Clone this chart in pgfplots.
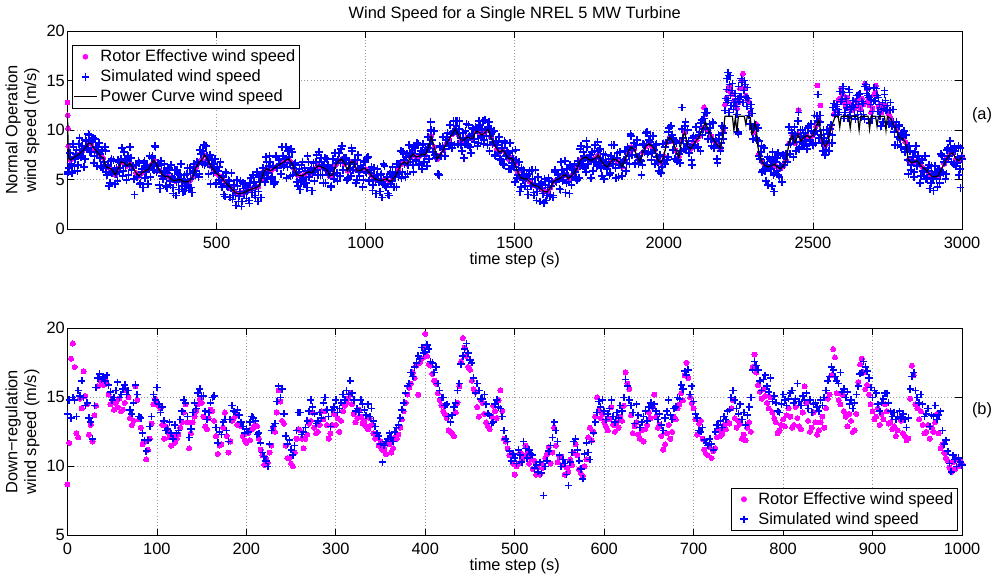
\documentclass[border=0pt]{standalone}
\usepackage{fontspec}
\setmainfont{Liberation Sans}
\usepackage{pgfplots}
\usepackage{pgfplotstable}
\pgfplotsset{compat=1.18}
\definecolor{mag}{rgb}{1,0,1}
\newcommand\fs{\fontsize{12.3}{14}\selectfont}

\pgfplotstableread{
t v
0 12.8
1 11.5
2 10.2
3 8.4
10 7.0
20 7.2
30 7.4
40 7.6
50 7.9
60 8.2
70 8.7
80 8.6
90 8.1
100 7.8
110 7.4
120 7.2
130 6.3
140 6.2
150 6.0
160 5.5
170 6.1
180 6.8
190 6.7
200 6.4
210 6.7
220 6.2
230 5.7
240 5.4
250 5.7
260 5.9
270 6.0
280 6.5
290 7.0
300 6.5
310 5.9
320 5.4
330 5.3
340 5.3
350 5.0
360 4.9
370 5.0
380 5.0
390 4.8
400 4.8
410 4.9
420 5.3
430 6.2
440 6.7
450 7.0
460 7.5
470 7.1
480 6.4
490 6.0
500 5.6
510 5.4
520 5.1
530 4.7
540 4.4
550 4.1
560 3.8
570 3.6
580 3.6
590 3.7
600 3.8
610 4.0
620 4.1
630 4.2
640 4.3
650 5.0
660 5.9
670 6.1
680 5.9
690 6.1
700 6.3
710 6.5
720 6.7
730 6.9
740 7.1
750 6.8
760 6.1
770 5.5
780 5.4
790 5.4
800 5.7
810 5.8
820 5.7
830 6.1
840 6.4
850 6.3
860 6.2
870 6.0
880 5.4
890 5.5
900 6.5
910 6.9
920 7.1
930 6.6
940 5.9
950 6.8
960 6.8
970 6.0
980 5.9
990 6.1
1000 6.1
1010 5.8
1020 5.4
1030 5.1
1040 5.0
1050 4.9
1060 5.0
1070 5.1
1080 4.8
1090 5.0
1100 5.4
1110 6.0
1120 6.6
1130 6.8
1140 6.6
1150 7.3
1160 7.6
1170 7.3
1180 7.4
1190 7.6
1200 7.5
1210 8.2
1220 9.4
1230 8.3
1240 7.1
1250 7.5
1260 8.0
1270 8.6
1280 9.1
1290 9.6
1300 10.1
1310 9.6
1320 9.0
1330 9.0
1340 9.3
1350 9.2
1360 9.2
1370 9.9
1380 9.8
1390 9.5
1400 9.8
1410 10.1
1420 9.3
1430 8.6
1440 8.1
1450 7.8
1460 8.0
1470 7.6
1480 7.1
1490 7.2
1500 6.6
1510 5.8
1520 5.2
1530 5.1
1540 5.1
1550 4.8
1560 4.5
1570 4.4
1580 4.3
1590 4.0
1600 3.8
1610 3.8
1620 4.2
1630 4.8
1640 5.0
1650 5.1
1660 5.4
1670 5.5
1680 5.1
1690 5.4
1700 5.7
1710 6.2
1720 7.0
1730 7.2
1740 7.3
1750 7.0
1760 7.0
1770 7.2
1780 7.5
1790 6.9
1800 6.5
1810 6.3
1820 6.7
1830 7.1
1840 7.0
1850 6.8
1860 6.3
1870 7.0
1880 7.8
1890 8.3
1900 8.1
1910 7.4
1920 6.8
1930 7.8
1940 8.4
1950 8.6
1960 8.4
1970 8.0
1980 7.0
1990 6.7
2000 7.4
2010 8.8
2020 9.3
2030 8.9
2040 8.0
2050 7.3
2060 9.0
2070 9.8
2080 8.4
2090 8.1
2100 8.6
2110 9.0
2120 9.4
2130 10.2
2140 11.6
2150 9.9
2160 9.4
2170 8.9
2180 8.5
2190 8.2
2200 10.0
2210 13.2
2220 14.3
2230 13.6
2240 12.5
2250 12.8
2260 15.0
2270 14.2
2280 13.0
2290 11.8
2300 9.8
2310 10.6
2320 7.6
2330 6.8
2340 6.4
2350 6.3
2360 6.4
2370 6.6
2380 6.3
2390 6.1
2400 6.4
2410 7.0
2420 8.7
2430 9.5
2440 8.7
2450 9.6
2460 8.9
2470 9.3
2480 9.5
2490 9.2
2500 9.5
2510 10.4
2520 11.0
2530 9.0
2540 8.4
2550 8.7
2560 10.2
2570 11.6
2580 12.0
2590 13.2
2600 13.6
2610 12.4
2620 12.8
2630 12.0
2640 12.2
2650 13.0
2660 12.1
2670 12.6
2680 14.2
2690 12.5
2700 12.2
2710 13.8
2720 12.4
2730 11.8
2740 12.5
2750 11.9
2760 11.2
2770 10.6
2780 10.0
2790 9.2
2800 9.2
2810 8.8
2820 7.0
2830 6.7
2840 6.8
2850 6.9
2860 6.5
2870 6.2
2880 6.0
2890 5.6
2900 5.3
2910 5.3
2920 5.4
2930 6.0
2940 6.6
2950 7.2
2960 7.6
2970 7.7
2980 7.1
2990 6.9
3000 7.3
2135 12.3
2205 12.6
2215 14.0
2225 13.8
2235 13.0
2245 12.2
2255 14.2
2265 15.7
2275 13.5
2285 12.8
2452 12.0
2515 14.5
2525 12.5
2585 13.0
2595 14.2
2605 12.8
2615 13.3
2625 12.2
2645 13.0
2655 12.5
2665 13.2
2675 14.7
2685 13.0
2695 11.8
2705 13.6
2712 14.5
2725 12.6
2745 12.5
2755 11.6
}\rotortop

\pgfplotstableread{
t v
0 5.6
5 6.2
10 7.3
15 5.7
20 8.3
25 7.1
30 8.0
35 6.5
40 9.2
45 7.3
50 8.1
55 6.3
60 9.0
65 8.2
70 9.6
75 7.8
80 9.0
85 9.2
90 7.4
95 8.3
100 6.4
105 8.7
110 7.2
115 7.9
120 6.2
125 8.3
130 5.8
135 6.5
140 4.4
145 6.9
150 5.7
155 7.0
160 4.6
165 6.2
170 7.0
175 5.8
180 7.1
185 5.4
190 7.8
195 6.4
200 7.0
205 5.5
210 8.3
215 6.0
220 6.4
225 3.5
230 6.5
235 5.3
240 6.7
245 4.7
250 6.1
255 6.7
260 5.2
265 6.3
270 4.6
275 7.4
280 6.3
285 7.4
290 6.0
295 8.3
300 6.0
305 6.4
310 4.1
315 6.5
320 5.1
325 6.6
330 4.4
335 5.7
340 6.2
345 4.5
350 5.3
355 3.6
360 6.0
365 4.8
370 5.6
375 4.0
380 6.6
385 4.4
390 5.0
395 3.9
400 5.6
405 4.5
410 6.2
415 4.2
420 5.7
425 6.6
430 5.5
435 6.8
440 5.3
445 8.0
450 6.8
455 7.9
460 6.5
465 8.4
470 6.6
475 7.0
480 4.6
485 7.0
490 5.7
495 7.1
500 4.7
505 5.9
510 6.3
515 4.6
520 5.4
525 3.5
530 5.8
535 4.4
540 5.0
545 3.2
550 5.7
555 3.4
560 4.0
565 2.4
570 4.4
575 3.3
580 4.9
585 2.8
590 4.1
595 4.6
600 3.1
605 4.2
610 2.6
615 5.2
620 3.9
625 4.8
630 3.2
635 5.8
640 3.8
645 4.8
650 3.2
655 6.2
660 5.6
665 7.3
670 5.2
675 6.4
680 6.8
685 5.3
690 6.4
695 4.8
700 7.4
705 6.2
710 7.1
715 5.6
720 8.3
725 6.3
730 7.1
735 5.2
740 7.9
745 6.7
750 8.1
755 5.5
760 6.5
765 6.7
770 4.8
775 5.8
780 4.0
785 6.5
790 5.2
795 6.2
800 4.7
805 7.4
810 5.3
815 6.0
820 3.9
825 6.7
830 5.8
835 7.5
840 5.5
845 6.8
850 7.2
855 5.5
860 6.5
865 4.7
870 7.1
875 5.5
880 6.0
885 4.4
890 7.1
895 5.5
900 6.7
905 4.9
910 7.7
915 6.7
920 8.4
925 6.0
930 7.0
935 7.2
940 5.2
945 6.7
950 5.4
955 7.9
960 6.6
965 7.0
970 5.0
975 7.5
980 5.4
985 6.2
990 4.3
995 6.9
1000 5.8
1005 7.2
1010 4.9
1015 6.0
1020 6.3
1025 4.5
1030 5.4
1035 3.6
1040 6.1
1045 4.8
1050 5.5
1055 3.2
1060 6.6
1065 4.5
1070 5.3
1075 3.6
1080 5.6
1085 4.6
1090 6.3
1095 4.3
1100 5.8
1105 6.6
1110 5.3
1115 6.6
1120 5.2
1125 7.8
1130 6.6
1135 7.3
1140 5.6
1145 8.5
1150 6.8
1155 7.7
1160 5.8
1165 8.2
1170 7.0
1175 8.6
1180 6.5
1185 7.9
1190 8.5
1195 6.8
1200 7.8
1205 6.4
1210 9.3
1215 8.6
1220 10.0
1225 7.8
1230 9.9
1235 7.2
1240 7.3
1245 5.5
1250 8.3
1255 7.4
1260 9.3
1265 7.4
1270 9.0
1275 9.7
1280 8.4
1285 9.6
1290 8.2
1295 10.9
1300 9.9
1305 10.4
1310 8.6
1315 10.9
1320 8.5
1325 9.2
1330 7.2
1335 9.9
1340 9.0
1345 10.5
1350 8.3
1355 9.6
1360 10.1
1365 8.8
1370 10.2
1375 8.4
1380 10.9
1385 9.4
1390 10.1
1395 8.6
1400 11.0
1405 9.4
1410 10.3
1415 7.9
1420 10.1
1425 8.6
1430 9.9
1435 7.4
1440 8.5
1445 8.8
1450 7.1
1455 8.2
1460 6.6
1465 8.9
1470 7.4
1475 7.9
1480 6.1
1485 8.7
1490 6.7
1495 7.1
1500 4.8
1505 7.0
1510 5.5
1515 6.8
1520 4.3
1525 5.5
1530 6.0
1535 4.4
1540 5.4
1545 3.5
1550 5.9
1555 4.4
1560 5.1
1565 3.4
1570 6.0
1575 3.8
1580 4.5
1585 2.8
1590 4.8
1595 3.6
1600 5.1
1605 2.9
1610 4.2
1615 4.9
1620 3.5
1625 4.8
1630 3.4
1635 6.0
1640 4.8
1645 5.6
1650 4.1
1655 6.8
1660 4.9
1665 5.6
1670 3.7
1675 6.1
1680 4.8
1685 6.5
1690 4.5
1695 6.0
1700 6.6
1705 5.2
1710 6.5
1715 5.2
1720 8.1
1725 6.9
1730 7.8
1735 6.2
1740 8.9
1745 6.6
1750 7.2
1755 5.2
1760 7.8
1765 6.8
1770 8.5
1775 6.4
1780 7.9
1785 8.1
1790 6.2
1795 7.0
1800 5.1
1805 7.5
1810 6.1
1815 7.1
1820 5.7
1825 8.5
1830 6.6
1835 7.2
1840 5.2
1845 7.7
1850 6.5
1855 7.8
1860 5.4
1865 7.0
1870 7.9
1875 6.7
1880 8.1
1885 6.6
1890 9.4
1895 8.0
1900 8.7
1905 6.7
1910 9.0
1915 6.6
1920 7.0
1925 5.5
1930 8.6
1935 7.8
1940 9.7
1945 7.6
1950 9.0
1955 9.4
1960 7.7
1965 8.5
1970 6.6
1975 8.6
1980 6.8
1985 7.4
1990 5.7
1995 8.6
2000 6.9
2005 8.3
2010 7.0
2015 9.8
2020 9.0
2025 10.4
2030 8.0
2035 8.8
2040 8.9
2045 6.9
2050 7.6
2055 6.7
2060 10.1
2065 9.2
2070 10.4
2075 8.1
2080 10.0
2085 7.7
2090 8.3
2095 6.5
2100 9.4
2105 8.5
2110 10.3
2115 8.3
2120 9.8
2125 10.7
2130 9.5
2135 11.2
2140 10.2
2145 11.8
2150 9.7
2155 10.2
2160 8.4
2165 10.7
2170 8.4
2175 8.9
2180 6.7
2185 9.1
2190 7.9
2195 10.4
2200 9.1
2205 12.0
2210 14.1
2215 13.0
2220 14.6
2225 12.5
2230 14.7
2235 12.8
2240 13.1
2245 11.6
2250 14.4
2255 13.4
2260 15.2
2265 12.8
2270 15.0
2275 13.3
2280 14.3
2285 11.5
2290 12.2
2295 11.7
2300 9.1
2305 10.5
2310 9.2
2315 10.2
2320 7.4
2325 7.8
2330 5.8
2335 8.2
2340 5.9
2345 6.5
2350 4.5
2355 7.1
2360 6.1
2365 7.8
2370 5.7
2375 6.8
2380 7.2
2385 5.5
2390 6.4
2395 4.8
2400 7.5
2405 6.5
2410 7.6
2415 6.8
2420 10.3
2425 8.6
2430 9.7
2435 7.3
2440 9.5
2445 8.8
2450 10.9
2455 8.3
2460 9.3
2465 10.0
2470 8.6
2475 9.7
2480 8.1
2485 10.4
2490 9.0
2495 9.9
2500 8.5
2505 11.5
2510 9.9
2515 10.9
2520 9.2
2525 10.8
2530 8.7
2535 10.0
2540 7.5
2545 8.9
2550 9.6
2555 8.7
2560 10.5
2565 9.5
2570 12.7
2575 11.6
2580 12.6
2585 11.6
2590 13.9
2595 12.9
2600 13.8
2605 11.2
2610 13.2
2615 12.3
2620 14.1
2625 11.5
2630 12.4
2635 13.0
2640 11.5
2645 12.9
2650 11.6
2655 13.6
2660 11.9
2665 12.9
2670 11.6
2675 14.4
2680 13.7
2685 13.5
2690 10.7
2695 13.1
2700 11.9
2705 14.3
2710 12.9
2715 13.5
2720 13.3
2725 11.4
2730 12.1
2735 10.8
2740 13.6
2745 12.0
2750 12.5
2755 10.6
2760 12.8
2765 10.4
2770 10.8
2775 8.5
2780 10.8
2785 9.3
2790 10.5
2795 8.3
2800 9.6
2805 9.9
2810 8.1
2815 8.2
2820 5.6
2825 7.9
2830 6.5
2835 7.3
2840 5.8
2845 8.4
2850 6.4
2855 6.9
2860 4.7
2865 7.1
2870 5.9
2875 7.4
2880 5.1
2885 6.2
2890 6.5
2895 4.7
2900 5.6
2905 3.9
2910 6.4
2915 5.1
2920 6.0
2925 4.7
2930 7.6
2935 5.8
2940 6.8
2945 5.1
2950 8.0
2955 7.1
2960 8.9
2965 6.8
2970 8.1
2975 8.3
2980 6.4
2985 7.3
2990 5.5
2995 8.2
3000 7.1
2215 15.8
2212 15.2
2222 15.5
2262 14.8
2517 13.6
2600 14.4
2690 14.2
2995 4.2
2370 3.8
2362 4.4
2248 9.8
2250 9.6
2740 14.0
2060 12.3
1307 10.9
2452 11.8
2218 11.8
1598 2.6
1218 10.8
3 5.8
8 7.7
13 6.6
18 8.6
23 6.4
28 7.6
33 5.9
38 8.6
43 7.5
48 8.4
53 8.0
58 7.1
63 8.9
68 8.2
73 9.5
78 7.8
83 8.8
88 6.7
93 9.1
98 7.8
103 8.3
108 7.6
113 6.3
118 8.0
123 6.8
128 7.9
133 5.5
138 6.4
143 4.7
148 7.1
153 5.9
158 6.1
163 5.6
168 4.9
173 6.8
178 6.2
183 8.2
188 5.9
193 6.9
198 5.0
203 7.4
208 6.5
213 7.2
218 6.4
223 5.1
228 6.5
233 5.3
238 6.9
243 4.6
248 5.8
253 4.2
258 6.9
263 5.8
268 6.5
273 6.1
278 5.3
283 7.2
288 6.5
293 8.4
298 5.8
303 6.7
308 4.5
313 6.9
318 5.4
323 5.9
328 5.4
333 4.2
338 6.0
343 4.9
348 6.5
353 4.2
358 5.1
363 3.4
368 6.0
373 4.9
378 5.5
383 5.1
388 3.8
393 5.5
398 4.4
403 6.2
408 4.1
413 5.1
418 3.7
423 6.3
428 5.9
433 6.7
438 6.7
443 5.6
448 7.6
453 6.6
458 8.5
463 6.7
468 7.4
473 5.6
478 7.5
483 6.3
488 6.6
493 6.1
498 4.6
503 6.3
508 5.0
513 6.8
518 4.3
523 5.3
528 3.3
533 5.7
538 4.3
543 4.9
548 4.2
553 3.0
558 4.5
563 3.4
568 5.0
573 2.8
578 3.8
583 2.3
588 4.7
593 3.6
598 4.3
603 3.9
608 2.9
613 4.7
618 3.7
623 5.5
628 3.4
633 4.4
638 2.8
643 5.3
648 4.8
653 5.5
658 5.8
663 4.8
668 6.8
673 5.7
678 7.4
683 5.1
688 6.3
693 4.6
698 7.3
703 6.2
708 7.0
713 6.6
718 5.6
723 7.4
728 6.5
733 8.3
738 6.3
743 7.3
748 5.4
753 7.8
758 6.2
763 6.6
768 5.7
773 4.4
778 6.1
783 5.0
788 6.8
793 4.6
798 5.9
803 4.2
808 6.8
813 5.7
818 6.2
823 5.8
828 4.9
833 6.8
838 6.0
843 7.8
848 5.5
853 6.5
858 4.7
863 7.2
868 6.0
873 6.5
878 5.6
883 4.3
888 6.2
893 5.1
898 7.7
903 5.7
908 7.0
913 5.4
918 8.1
923 7.0
928 7.2
933 6.7
938 5.0
943 6.6
948 6.2
953 8.2
958 6.0
963 7.0
968 4.7
973 7.0
978 5.8
983 6.4
988 6.2
993 5.0
998 6.8
1003 5.7
1008 7.3
1013 5.0
1018 5.7
1023 3.9
1028 6.2
1033 5.0
1038 5.5
1043 5.1
1048 3.8
1053 5.6
1058 4.6
1063 6.4
1068 4.3
1073 5.3
1078 3.4
1083 5.8
1088 4.9
1093 5.5
1098 5.4
1103 4.3
1108 6.6
1113 5.6
1118 7.9
1123 5.8
1128 7.0
1133 5.3
1138 7.6
1143 6.5
1148 7.7
1153 7.4
1158 6.5
1163 8.3
1168 6.9
1173 8.7
1178 6.6
1183 7.6
1188 6.1
1193 8.6
1198 7.4
1203 8.0
1208 8.2
1213 7.1
1218 9.9
1223 9.0
1228 9.9
1233 7.5
1238 7.5
1243 5.6
1248 8.4
1253 7.4
1258 8.4
1263 8.1
1268 7.4
1273 9.3
1278 8.6
1283 10.5
1288 8.7
1293 9.8
1298 8.5
1303 10.9
1308 9.6
1313 10.1
1318 9.2
1323 7.9
1328 9.7
1333 8.6
1338 10.6
1343 8.5
1348 9.4
1353 7.7
1358 10.2
1363 9.1
1368 10.3
1373 10.0
1378 8.7
1383 10.5
1388 9.2
1393 10.9
1398 9.0
1403 10.0
1408 8.5
1413 10.8
1418 9.4
1423 9.8
1428 8.8
1433 7.5
1438 8.9
1443 7.7
1448 9.3
1453 7.0
1458 8.2
1463 6.5
1468 8.7
1473 7.5
1478 7.7
1483 7.2
1488 6.1
1493 7.9
1498 6.3
1503 8.0
1508 5.2
1513 6.0
1518 3.8
1523 6.2
1528 5.0
1533 5.6
1538 5.2
1543 4.0
1548 5.6
1553 4.4
1558 6.0
1563 3.7
1568 4.6
1573 2.9
1578 5.3
1583 4.2
1588 4.6
1593 4.1
1598 2.7
1603 4.5
1608 3.4
1613 5.2
1618 3.3
1623 4.4
1628 3.2
1633 5.8
1638 4.9
1643 5.5
1648 5.2
1653 4.0
1658 6.0
1663 5.0
1668 6.9
1673 4.7
1678 5.4
1683 3.6
1688 6.3
1693 5.3
1698 6.1
1703 5.8
1708 5.0
1713 6.9
1718 6.4
1723 8.4
1728 6.4
1733 7.4
1738 5.8
1743 8.3
1748 7.0
1753 7.5
1758 7.1
1763 5.9
1768 7.9
1773 6.8
1778 8.8
1783 6.7
1788 7.2
1793 5.4
1798 7.6
1803 6.4
1808 6.8
1813 6.4
1818 5.5
1823 7.4
1828 6.6
1833 8.5
1838 6.2
1843 7.2
1848 5.3
1853 7.8
1858 6.3
1863 6.8
1868 7.0
1873 5.9
1878 8.3
1883 7.4
1888 9.6
1893 7.5
1898 8.3
1903 6.6
1908 8.5
1913 7.3
1918 7.4
1923 6.9
1928 6.5
1933 8.5
1938 7.9
1943 9.8
1948 7.8
1953 8.8
1958 7.0
1963 9.4
1968 8.0
1973 8.5
1978 7.3
1983 5.9
1988 7.5
1993 6.3
1998 8.6
2003 6.6
2008 8.7
2013 7.3
2018 10.2
2023 9.2
2028 9.5
2033 9.0
2038 7.1
2043 8.7
2048 7.0
2053 8.7
2058 7.9
2063 9.2
2068 8.1
2073 10.8
2078 8.6
2083 8.9
2088 8.3
2093 7.0
2098 9.2
2103 8.2
2108 10.3
2113 8.2
2118 9.5
2123 7.9
2128 11.0
2133 10.1
2138 11.8
2143 11.7
2148 9.1
2153 10.6
2158 9.1
2163 10.8
2168 8.2
2173 9.1
2178 7.1
2183 9.5
2188 8.2
2193 8.7
2198 9.7
2203 10.2
2208 13.2
2213 12.8
2218 15.5
2223 13.5
2228 14.0
2233 12.1
2238 13.7
2243 12.4
2248 13.2
2253 12.9
2258 13.4
2263 15.0
2268 14.0
2273 14.6
2278 12.4
2283 13.2
2288 10.6
2293 12.6
2298 10.1
2303 10.3
2308 10.5
2313 9.0
2318 8.9
2323 7.1
2328 8.4
2333 6.0
2338 6.7
2343 4.9
2348 7.3
2353 6.2
2358 6.9
2363 6.5
2368 5.5
2373 7.3
2378 5.9
2383 7.7
2388 5.3
2393 6.3
2398 4.8
2403 7.4
2408 6.8
2413 7.5
2418 8.5
2423 7.6
2428 10.0
2433 9.1
2438 10.3
2443 7.9
2448 9.6
2453 8.1
2458 10.0
2463 8.8
2468 9.7
2473 9.4
2478 8.4
2483 10.2
2488 8.9
2493 10.6
2498 8.6
2503 9.7
2508 8.7
2513 11.4
2518 10.8
2523 11.5
2528 9.5
2533 7.9
2538 9.2
2543 8.0
2548 10.0
2553 7.9
2558 10.1
2563 8.7
2568 12.3
2573 11.5
2578 12.4
2583 12.1
2588 11.8
2593 13.9
2598 13.1
2603 14.2
2608 11.8
2613 12.6
2618 11.2
2623 13.8
2628 12.1
2633 12.5
2638 12.3
2643 11.1
2648 13.5
2653 12.6
2658 13.7
2663 11.3
2668 12.7
2673 11.1
2678 14.6
2683 14.1
2688 13.3
2693 12.6
2698 11.2
2703 12.9
2708 13.0
2713 14.2
2718 11.9
2723 12.6
2728 10.4
2733 12.8
2738 12.2
2743 13.0
2748 12.1
2753 10.8
2758 12.0
2763 10.8
2768 12.1
2773 9.8
2778 10.3
2783 8.5
2788 10.4
2793 9.1
2798 9.7
2803 9.3
2808 7.8
2813 9.5
2818 7.0
2823 8.4
2828 6.0
2833 6.9
2838 5.3
2843 7.8
2848 6.8
2853 7.4
2858 6.7
2863 5.4
2868 7.0
2873 5.8
2878 7.4
2883 5.2
2888 5.9
2893 4.1
2898 6.4
2903 5.2
2908 5.8
2913 5.4
2918 4.3
2923 6.1
2928 5.5
2933 7.4
2938 5.7
2943 6.8
2948 5.6
2953 8.2
2958 7.4
2963 8.1
2968 7.8
2973 6.6
2978 7.9
2983 6.7
2988 8.4
2993 6.1
2998 7.4
}\bluetop

\pgfplotstableread{
t v
0 11.7
3 7.2
10 7.0
20 7.2
30 7.4
40 7.6
50 7.9
60 8.2
70 8.7
80 8.6
90 8.1
100 7.8
110 7.4
120 7.2
130 6.3
140 6.2
150 6.0
160 5.5
170 6.1
180 6.8
190 6.7
200 6.4
210 6.7
220 6.2
230 5.7
240 5.4
250 5.7
260 5.9
270 6.0
280 6.5
290 7.0
300 6.5
310 5.9
320 5.4
330 5.3
340 5.3
350 5.0
360 4.9
370 5.0
380 5.0
390 4.8
400 4.8
410 4.9
420 5.3
430 6.2
440 6.7
450 7.0
460 7.5
470 7.1
480 6.4
490 6.0
500 5.6
510 5.4
520 5.1
530 4.7
540 4.4
550 4.1
560 3.8
570 3.6
580 3.6
590 3.7
600 3.8
610 4.0
620 4.1
630 4.2
640 4.3
650 5.0
660 5.9
670 6.1
680 5.9
690 6.1
700 6.3
710 6.5
720 6.7
730 6.9
740 7.1
750 6.8
760 6.1
770 5.5
780 5.4
790 5.4
800 5.7
810 5.8
820 5.7
830 6.1
840 6.4
850 6.3
860 6.2
870 6.0
880 5.4
890 5.5
900 6.5
910 6.9
920 7.1
930 6.6
940 5.9
950 6.8
960 6.8
970 6.0
980 5.9
990 6.1
1000 6.1
1010 5.8
1020 5.4
1030 5.1
1040 5.0
1050 4.9
1060 5.0
1070 5.1
1080 4.8
1090 5.0
1100 5.4
1110 6.0
1120 6.6
1130 6.8
1140 6.6
1150 7.3
1160 7.6
1170 7.3
1180 7.4
1190 7.6
1200 7.5
1210 8.2
1220 9.4
1230 8.3
1240 7.1
1250 7.5
1260 8.0
1270 8.6
1280 9.1
1290 9.6
1300 10.1
1310 9.6
1320 9.0
1330 9.0
1340 9.3
1350 9.2
1360 9.2
1370 9.9
1380 9.8
1390 9.5
1400 9.8
1410 10.1
1420 9.3
1430 8.6
1440 8.1
1450 7.8
1460 8.0
1470 7.6
1480 7.1
1490 7.2
1500 6.6
1510 5.8
1520 5.2
1530 5.1
1540 5.1
1550 4.8
1560 4.5
1570 4.4
1580 4.3
1590 4.0
1600 3.8
1610 3.8
1620 4.2
1630 4.8
1640 5.0
1650 5.1
1660 5.4
1670 5.5
1680 5.1
1690 5.4
1700 5.7
1710 6.2
1720 7.0
1730 7.2
1740 7.3
1750 7.0
1760 7.0
1770 7.2
1780 7.5
1790 6.9
1800 6.5
1810 6.3
1820 6.7
1830 7.1
1840 7.0
1850 6.8
1860 6.3
1870 7.0
1880 7.8
1890 8.3
1900 8.1
1910 7.4
1920 6.8
1930 7.8
1940 8.4
1950 8.6
1960 8.4
1970 8.0
1980 7.0
1990 6.7
2000 7.4
2010 8.8
2020 9.3
2030 8.9
2040 8.0
2050 7.3
2060 9.0
2070 9.8
2080 8.4
2090 8.1
2100 8.6
2110 9.0
2120 9.4
2130 10.2
2140 10.8
2150 9.9
2160 9.4
2170 8.9
2180 8.5
2190 8.2
2200 10.0
2205 11.4
2210 11.4
2220 11.4
2230 11.4
2235 10.0
2240 11.3
2245 9.8
2250 11.4
2260 11.4
2270 11.4
2275 10.6
2280 11.4
2290 11.3
2295 9.6
2300 9.8
2305 10.8
2310 10.2
2315 8.4
2320 7.6
2330 6.8
2340 6.4
2350 6.3
2360 6.4
2370 6.6
2380 6.3
2390 6.1
2400 6.4
2410 7.0
2420 8.7
2430 9.5
2440 8.7
2450 9.6
2460 8.9
2470 9.3
2480 9.5
2490 9.2
2500 9.5
2510 10.4
2520 11.0
2530 9.0
2540 8.4
2550 8.7
2560 10.2
2570 11.0
2575 11.4
2585 11.4
2590 10.3
2595 11.4
2620 11.4
2625 10.2
2630 11.4
2650 11.4
2655 10.0
2660 11.4
2685 11.4
2690 10.1
2695 11.4
2710 11.4
2715 10.4
2720 11.4
2740 11.4
2745 10.0
2750 11.4
2760 11.2
2770 10.6
2780 10.0
2790 9.2
2800 9.2
2810 8.8
2820 7.0
2830 6.7
2840 6.8
2850 6.9
2860 6.5
2870 6.2
2880 6.0
2890 5.6
2900 5.3
2910 5.3
2920 5.4
2930 6.0
2940 6.6
2950 7.2
2960 7.6
2970 7.7
2980 7.1
2990 6.9
3000 7.3
}\powertop

\pgfplotstableread{
t m b
0 8.7 13.8
2 11.7 14.8
4 17.8 13.5
6 18.9 15.0
8 17.2 14.8
10 12.4 13.6
12 12.1 15.5
14 14.9 15.1
16 14.2 16.2
18 16.9 15.0
20 15.1 14.4
22 14.5 14.6
24 12.3 13.5
26 13.0 13.2
28 11.8 12.0
30 13.7 14.4
32 14.4 15.7
34 15.8 16.4
36 16.3 16.7
38 16.1 16.3
40 15.9 16.5
42 16.4 16.2
44 16.0 16.6
46 15.2 15.9
48 14.5 15.4
50 14.8 14.8
52 14.1 15.0
54 14.6 15.5
56 14.3 16.1
58 14.9 15.0
60 14.0 15.2
62 14.1 15.6
64 14.6 15.9
66 15.5 15.2
68 15.0 15.5
70 13.5 14.1
72 13.0 13.8
74 13.3 14.6
76 15.8 15.9
78 14.8 15.2
80 13.4 13.6
82 12.8 13.5
84 11.6 12.4
86 11.8 11.9
88 10.5 11.1
90 11.2 11.9
92 12.0 12.9
94 13.1 13.6
96 14.5 15.2
98 14.9 14.8
100 14.7 15.7
102 14.4 14.5
104 14.2 13.9
106 13.0 14.3
108 12.0 13.3
110 12.9 12.6
112 12.5 12.7
114 12.1 13.2
116 11.5 12.4
118 12.2 12.0
120 11.7 13.0
122 12.0 12.4
124 12.3 12.6
126 12.8 13.4
128 13.2 14.0
130 13.9 14.8
132 14.5 14.6
134 13.2 13.6
136 11.3 12.1
138 12.4 12.7
140 13.2 13.9
142 13.6 14.6
144 14.0 14.2
146 14.5 15.3
148 14.9 15.6
150 14.6 15.1
152 13.6 15.1
154 12.9 14.0
156 12.7 13.4
158 13.5 13.9
160 14.1 14.6
162 14.0 15.0
164 13.3 15.1
166 12.2 12.8
168 10.9 11.7
170 11.5 12.5
172 11.6 12.3
174 12.8 13.2
176 13.9 13.4
178 12.2 12.6
180 11.0 11.8
182 11.8 13.4
184 13.3 14.4
186 13.5 14.0
188 13.7 13.9
190 13.0 14.1
192 13.1 13.7
194 12.9 13.2
196 12.2 12.9
198 11.9 12.4
200 11.7 12.7
202 12.4 12.5
204 11.9 13.2
206 12.7 13.6
208 12.8 13.5
210 13.0 13.3
212 12.9 12.3
214 12.0 12.4
216 11.2 11.7
218 10.8 11.0
220 10.1 10.7
222 10.6 10.4
224 10.3 10.0
226 11.0 11.6
228 11.5 12.6
230 12.8 12.9
232 12.5 13.1
234 13.9 14.7
236 15.5 15.8
238 14.7 15.0
240 13.3 15.6
242 13.1 13.8
244 11.5 12.2
246 10.6 11.6
248 10.6 11.9
250 10.2 11.2
252 10.0 10.8
254 11.0 11.5
256 12.0 12.6
258 12.7 13.9
260 12.6 13.9
262 12.0 12.3
264 11.3 12.5
266 12.0 12.8
268 12.3 13.3
270 13.1 14.0
272 13.3 14.8
274 13.9 14.3
276 12.8 13.8
278 12.4 13.1
280 12.5 13.3
282 13.0 13.9
284 14.0 13.5
286 13.4 14.6
288 14.0 15.0
290 13.0 14.1
292 12.0 13.6
294 12.4 12.9
296 13.0 14.1
298 13.8 14.3
300 13.0 14.8
302 13.5 13.9
304 12.5 14.2
306 13.3 14.6
308 14.0 15.2
310 14.4 14.8
312 14.6 15.5
314 14.9 15.2
316 15.3 16.2
318 14.5 15.3
320 13.8 14.8
322 13.2 14.0
324 13.5 14.2
326 14.1 13.9
328 13.6 14.8
330 13.1 14.5
332 13.3 14.1
334 12.9 13.7
336 12.7 14.5
338 13.5 13.6
340 13.0 14.2
342 12.4 13.3
344 12.0 12.9
346 12.3 12.4
348 11.5 12.2
350 11.8 11.6
352 11.2 10.3
354 11.3 11.5
356 10.9 11.8
358 11.8 12.0
360 11.6 12.4
362 11.0 12.1
364 11.3 11.8
366 12.1 12.5
368 12.0 12.8
370 12.3 13.0
372 12.8 13.5
374 13.4 14.1
376 14.0 14.6
378 14.6 15.3
380 15.2 15.8
382 15.7 16.0
384 16.0 16.8
386 16.8 16.5
388 16.4 17.2
390 17.3 17.5
392 15.2 18.0
394 17.5 17.8
396 17.8 18.6
398 18.6 18.2
400 19.6 18.3
402 18.0 18.8
404 17.4 18.5
406 17.3 17.6
408 16.7 17.5
410 16.2 16.8
412 16.0 17.2
414 15.3 16.0
416 14.8 15.5
418 14.4 15.0
420 14.0 15.0
422 13.8 14.4
424 13.5 14.5
426 12.6 13.6
428 12.5 13.2
430 12.4 13.7
432 12.2 14.3
434 13.9 14.6
436 14.6 15.5
438 15.8 16.0
440 17.6 17.4
442 19.3 18.0
444 18.6 18.5
446 18.0 18.9
448 17.2 18.2
450 17.0 17.7
452 16.2 17.5
454 15.6 16.4
456 15.4 15.3
458 14.3 16.0
460 13.6 15.5
462 14.8 14.9
464 14.6 14.9
466 13.8 15.2
468 13.2 14.5
470 12.9 13.8
472 12.7 13.7
474 13.6 13.1
476 14.4 13.2
478 14.0 14.5
480 13.5 14.8
482 14.8 14.3
484 15.5 14.2
486 14.0 13.6
488 12.0 12.6
490 11.8 12.0
492 11.3 11.8
494 10.8 11.1
496 10.9 10.4
498 10.2 10.9
500 9.4 10.6
502 10.0 10.2
504 10.2 11.2
506 11.0 10.8
508 10.5 10.3
510 10.8 11.8
512 11.5 11.3
514 10.9 10.6
516 10.2 11.2
518 10.6 10.9
520 9.8 10.8
522 10.4 9.9
524 9.4 10.1
526 9.9 9.6
528 9.4 10.3
530 10.2 9.5
532 9.9 7.9
534 10.6 10.0
536 10.9 10.4
538 11.4 11.1
540 10.2 11.5
542 11.0 12.1
544 12.8 13.2
546 11.5 12.6
548 10.3 11.8
550 10.7 10.8
552 10.7 10.0
554 10.1 10.5
556 9.4 10.2
558 9.9 9.4
560 9.6 8.6
562 10.5 10.3
564 10.1 11.0
566 11.0 11.8
568 11.6 12.0
570 10.8 11.2
572 9.8 10.4
574 9.5 9.8
576 9.3 9.1
578 10.0 10.9
580 10.5 11.7
582 12.1 11.0
584 12.8 10.5
586 11.9 11.8
588 12.5 12.4
590 13.6 13.2
592 15.0 13.9
594 14.1 14.7
596 13.5 14.3
598 13.8 14.8
600 13.2 14.0
602 12.9 13.4
604 12.6 13.8
606 13.4 14.2
608 14.3 14.8
610 13.0 13.6
612 12.5 13.2
614 13.2 13.9
616 12.8 13.5
618 13.6 14.4
620 13.3 14.0
622 14.4 15.0
624 16.8 16.3
626 16.0 15.8
628 15.6 14.8
630 13.7 14.4
632 12.4 13.9
634 12.9 13.1
636 13.2 14.5
638 12.3 13.7
640 12.0 12.8
642 12.6 13.2
644 11.8 13.6
646 12.7 14.0
648 13.0 13.3
650 13.9 14.3
652 13.5 14.6
654 14.3 14.2
656 15.2 14.5
658 13.6 14.0
660 12.8 13.4
662 13.0 13.8
664 12.2 13.0
666 11.2 12.6
668 11.6 13.5
670 12.4 14.0
672 13.0 14.8
674 12.0 13.7
676 12.5 13.4
678 13.6 14.2
680 13.4 14.3
682 14.2 15.0
684 14.5 14.9
686 15.3 15.9
688 14.8 15.6
690 16.6 16.9
692 17.5 16.6
694 16.4 17.0
696 15.0 15.2
698 14.6 15.8
700 14.2 14.7
702 13.4 13.8
704 12.3 13.5
706 13.1 12.6
708 13.3 12.5
710 12.0 12.8
712 11.2 11.9
714 10.9 11.7
716 10.8 11.5
718 11.4 12.0
720 10.6 11.6
722 11.1 11.2
724 11.3 12.5
726 12.1 13.0
728 12.6 13.0
730 12.2 13.3
732 12.4 12.8
734 13.0 13.6
736 12.7 13.4
738 13.2 14.0
740 13.1 14.1
742 14.2 15.0
744 14.8 15.5
746 13.5 14.8
748 12.8 14.2
750 13.3 13.8
752 13.1 14.5
754 12.0 13.4
756 12.3 13.9
758 11.9 13.0
760 12.8 13.7
762 13.2 14.3
764 12.5 15.0
766 17.2 17.0
768 18.1 17.6
770 16.8 17.3
772 15.9 17.0
774 15.4 16.2
776 14.9 15.5
778 15.6 16.3
780 15.1 16.6
782 14.6 15.8
784 14.2 15.4
786 15.0 16.4
788 13.9 14.7
790 13.5 15.1
792 13.2 14.6
794 12.4 14.0
796 12.6 13.9
798 13.0 14.5
800 13.4 15.2
802 12.9 14.8
804 13.7 14.4
806 14.2 14.9
808 13.6 15.3
810 12.8 15.5
812 13.0 14.6
814 14.3 14.9
816 13.5 16.0
818 12.9 14.7
820 12.7 14.4
822 13.9 15.1
824 15.8 14.8
826 14.6 15.3
828 13.3 14.2
830 12.5 14.8
832 12.8 13.9
834 13.9 14.5
836 13.2 14.6
838 12.3 14.3
840 12.6 14.0
842 13.2 14.8
844 13.6 14.4
846 12.8 15.0
848 14.2 15.5
850 14.9 16.2
852 15.2 16.5
854 16.6 17.2
856 18.5 17.0
858 17.9 16.5
860 15.3 16.2
862 14.8 16.0
864 14.5 16.8
866 15.2 15.4
868 14.0 15.6
870 13.6 15.0
872 12.9 15.4
874 13.8 14.5
876 13.3 14.8
878 12.5 14.2
880 12.6 14.6
882 13.8 15.2
884 16.1 15.8
886 17.4 16.7
888 17.8 16.8
890 16.8 17.6
892 15.6 17.2
894 15.9 16.9
896 15.2 16.4
898 14.5 15.7
900 14.0 15.0
902 13.4 15.5
904 13.6 15.3
906 14.2 14.5
908 13.0 14.0
910 13.8 14.6
912 13.4 14.9
914 14.5 15.3
916 14.0 15.3
918 13.1 14.6
920 13.2 14.0
922 12.7 13.6
924 12.9 13.9
926 12.2 13.4
928 12.6 13.6
930 13.5 14.0
932 13.3 13.5
934 12.4 13.8
936 12.2 13.4
938 11.9 12.8
940 12.0 13.5
942 14.9 15.6
944 17.3 16.5
946 16.6 16.8
948 14.5 15.5
950 14.2 15.0
952 13.4 14.6
954 14.0 15.2
956 13.0 14.5
958 12.4 13.6
960 12.5 13.8
962 13.0 14.2
964 12.0 12.9
966 12.8 13.7
968 12.5 13.6
970 13.2 14.4
972 13.8 13.4
974 12.4 13.7
976 11.3 14.0
978 11.6 12.6
980 11.0 11.6
982 10.6 11.9
984 10.4 11.1
986 9.9 10.2
988 9.6 9.6
990 10.3 10.8
992 9.8 10.5
994 10.5 10.0
996 10.0 10.6
998 10.4 10.3
1000 10.2 10.1
}\bottomdata

\pgfplotsset{
  mystyle/.style={
    scale only axis,
    width=670.9pt,
    axis line style={line width=0.75pt},
    tick align=inside,
    tick pos=both,
    major tick length=5pt,
    every tick/.style={black, line width=0.6pt},
    grid=major,
    grid style={dotted, line width=0.6pt, gray!80},
    /pgf/number format/assume math mode=true,
    /pgf/number format/1000 sep={},
    tick label style={font=\fs},
    label style={font=\fs},
    yticklabel style={xshift=1.5pt},
    xticklabel style={yshift=-2.5pt},
    ylabel style={at={(axis description cs:-0.0503,0.5)}, anchor=center, align=center},
    xlabel style={at={(axis description cs:0.5,0)}, anchor=center, yshift=-23.5pt},
    legend style={font=\fs, draw=black, line width=0.6pt, inner sep=1pt,
      nodes={inner sep=2.3pt}, row sep=0pt, fill=white},
    legend cell align=left,
  },
}

\begin{document}
\begin{tikzpicture}
\begin{axis}[mystyle,
  set layers, clip mode=individual,
  at={(0pt,229.5pt)}, anchor=south west,
  height=148.7pt,
  xmin=0, xmax=3000, ymin=0, ymax=20,
  xtick={500,1000,...,3000}, ytick={0,5,10,15,20},
  title={Wind Speed for a Single NREL 5 MW Turbine},
  title style={at={(axis description cs:0.5,1)}, anchor=base, yshift=3.75pt, font=\fs},
  xlabel={time step (s)},
  ylabel={Normal Operation\\wind speed (m/s)},
  legend style={at={(0.0047,0.9294)}, anchor=north west},
  after end axis/.code={\node[anchor=west, inner sep=0pt, font=\fs] at (rel axis cs:1,0.576) [xshift=7.3pt] {(a)};},
]
\addplot[only marks, mark=*, mark size=1.8pt, color=mag, mark options={solid, draw=mag, fill=mag, line width=0pt},
  legend image code/.code={\path[draw=none] (0cm,0cm) -- (0.6cm,0cm); \path[draw=none] plot[only marks, mark=*, mark size=1.8pt, mark options={draw=mag, fill=mag}] coordinates {(0.3cm,0cm)};}]
  table[x=t, y=v] {\rotortop};
\addlegendentry{Rotor Effective wind speed}
\addplot[only marks, mark=+, mark size=2.9pt, color=blue, mark options={solid, draw=blue, line width=1.2pt},
  legend image code/.code={\path[draw=none] (0cm,0cm) -- (0.6cm,0cm); \path[draw=none] plot[only marks, mark=+, mark size=2.9pt, mark options={draw=blue, line width=1.2pt}] coordinates {(0.3cm,0cm)};}]
  table[x=t, y=v] {\bluetop};
\addlegendentry{Simulated wind speed}
\addplot[black, line width=0.9pt, no marks, on layer=axis foreground] table[x=t, y=v] {\powertop};
\addlegendentry{Power Curve wind speed}
\end{axis}

\begin{axis}[mystyle,
  at={(0pt,0pt)}, anchor=south west,
  height=155.25pt,
  xmin=0, xmax=1000, ymin=5, ymax=20,
  xtick={0,100,...,1000}, ytick={5,10,15,20},
  xlabel={time step (s)},
  ylabel={Down−regulation\\wind speed (m/s)},
  legend style={at={(0.9955,0.0208)}, anchor=south east},
  after end axis/.code={\node[anchor=west, inner sep=0pt, font=\fs] at (rel axis cs:1,0.604) [xshift=7.3pt] {(b)};},
]
\addplot[only marks, mark=*, mark size=1.9pt, color=mag, mark options={solid, draw=mag, fill=mag, line width=0pt},
  legend image code/.code={\path[draw=none] (0cm,0cm) -- (0.6cm,0cm); \path[draw=none] plot[only marks, mark=*, mark size=1.9pt, mark options={draw=mag, fill=mag}] coordinates {(0.3cm,0cm)};}]
  table[x=t, y=m] {\bottomdata};
\addlegendentry{Rotor Effective wind speed}
\addplot[only marks, mark=+, mark size=2.7pt, color=blue, mark options={solid, draw=blue, line width=1.2pt},
  legend image code/.code={\path[draw=none] (0cm,0cm) -- (0.6cm,0cm); \path[draw=none] plot[only marks, mark=+, mark size=2.7pt, mark options={draw=blue, line width=1.2pt}] coordinates {(0.3cm,0cm)};}]
  table[x=t, y=b] {\bottomdata};
\addlegendentry{Simulated wind speed}
\end{axis}
\pgfresetboundingbox
\useasboundingbox (-50.6pt,-29.8pt) rectangle (697.9pt,401.5pt);
\end{tikzpicture}
\end{document}
